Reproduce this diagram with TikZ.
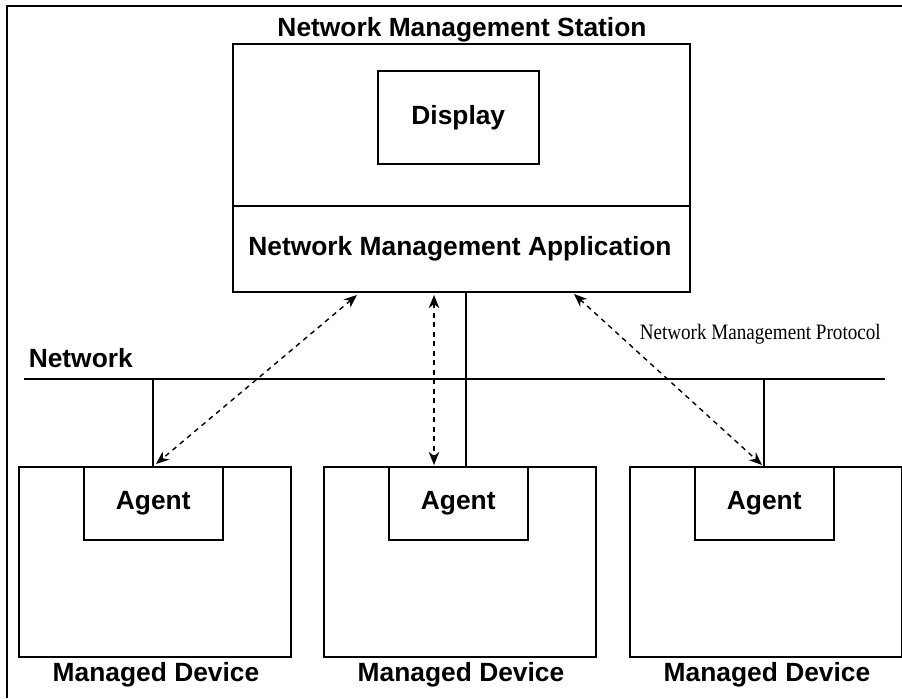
\documentclass[tikz,border=0pt]{standalone}
\usepackage{fontspec}
\setmainfont{Liberation Sans}
\newfontfamily\protofont[FakeStretch=0.87]{Liberation Serif}
\usetikzlibrary{arrows.meta}

\begin{document}
\begin{tikzpicture}[x=0.02cm, y=-0.02cm, line width=0.9pt,
    box/.style={draw, inner sep=0pt, anchor=north west},
    lbl/.style={font=\fontsize{15}{18}\selectfont\bfseries, inner sep=0pt},
    msg/.style={dash pattern=on 2.8pt off 2.6pt, line width=0.8pt, {Stealth[length=7.5pt,width=6pt]}-{Stealth[length=7.5pt,width=6pt]}},]

        \useasboundingbox (0,0) rectangle (902,698);

        % Define the coordinates of the frame and the network
        \coordinate (frameB) at (7,698);
        \coordinate (frameS) at (7,6);
        \coordinate (frameX) at (902,6);
        \coordinate (netL) at (24,379);
        \coordinate (netR) at (885,379);
        \coordinate (div) at (232,206);
        \coordinate (drop2) at (466,466);

        % Ends of the protocol arrows
        \coordinate (a1s) at (357,295);
        \coordinate (a1d) at (156,464);
        \coordinate (a2s) at (434,295);
        \coordinate (a2d) at (434,465);
        \coordinate (a3s) at (574,294);
        \coordinate (a3d) at (762,465);

        \draw (frameB) -- (frameS) -- (frameX);

        % Management station
        \node[box, minimum width=9.14cm, minimum height=4.96cm] (station) at (232,43) {};
        \node[box, lbl, minimum width=3.22cm, minimum height=1.86cm] (display) at (377,70) {Display};
        \draw (div) -- (div -| station.east);
        \node[lbl, anchor=base] (stlbl) at (462,36) {Network Management Station};
        \node[lbl, anchor=base] (applbl) at (460,255) {Network Management Application};

        % Managed devices with their agents
        \foreach \n/\x in {1/18, 2/323, 3/629} {
            \node[box, minimum width=5.45cm, minimum height=3.8cm] (dev\n) at (\x,466) {};
            \node[box, lbl, minimum width=2.78cm, minimum height=1.46cm] (agent\n) at (\x+65,466) {Agent};
            \node[lbl, anchor=base] (devlbl\n) at (\x+138,681) {Managed Device};
        }

        % Network
        \draw (netL) -- (netR);
        \node[lbl, anchor=base west] (netlbl) at (28,367) {Network};
        \draw (agent1.north |- netL) -- (agent1.north);
        \draw (agent3.north |- netL) -- (agent3.north);
        \draw (station.south -| drop2) -- (drop2);

        % Protocol arrows
        \draw[msg] (a1s) -- (a1d);
        \draw[msg] (a2s) -- (a2d);
        \draw[msg] (a3s) -- (a3d);
        \node[anchor=base west, inner sep=0pt, font=\protofont\fontsize{12.5}{15}\selectfont] (proto) at (639,339) {Network Management Protocol};

    \end{tikzpicture}
\end{document}
